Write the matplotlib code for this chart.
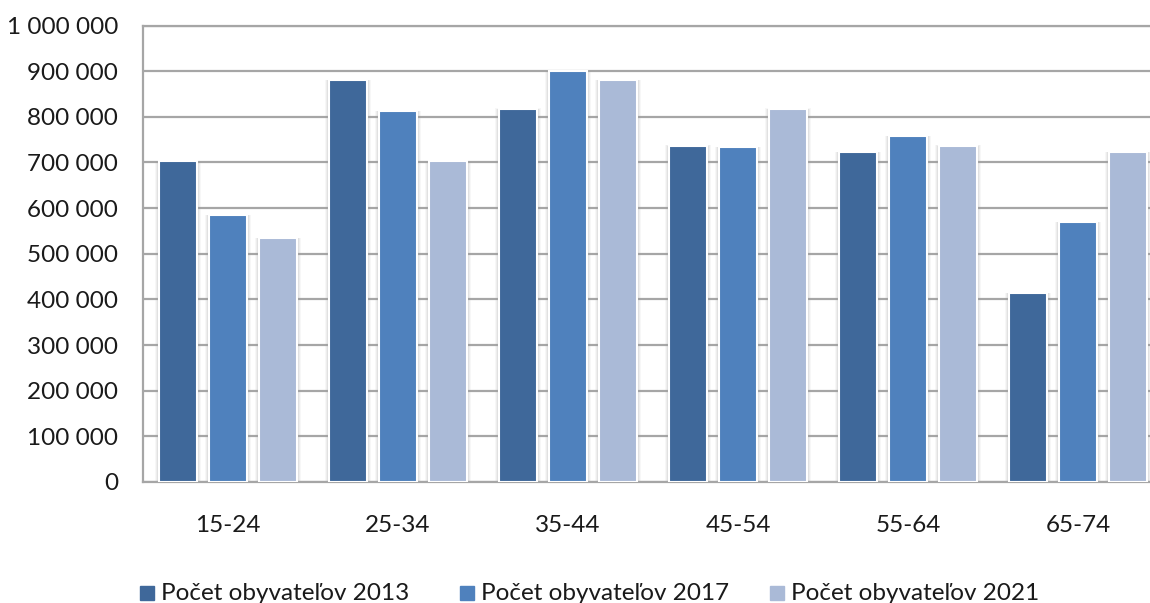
import matplotlib
matplotlib.use('Agg')
import matplotlib.pyplot as plt
from matplotlib.ticker import FuncFormatter, MultipleLocator
from matplotlib.patches import Rectangle
import numpy as np

plt.rcParams['font.family'] = ['Lato', 'DejaVu Sans']

# vekove skupiny a pocty obyvatelov
categories = ['15-24', '25-34', '35-44', '45-54', '55-64', '65-74']
pop_2013 = [703000, 881000, 818000, 737000, 723000, 413000]
pop_2017 = [585000, 813000, 901000, 734000, 758000, 569000]
pop_2021 = [535000, 703000, 881000, 818000, 737000, 723000]
labels = ['Počet obyvateľov 2013', 'Počet obyvateľov 2017', 'Počet obyvateľov 2021']
colors = ['#3f689a', '#4f81bd', '#aabad7']

fig = plt.figure(figsize=(11.5, 6.03), dpi=100)
# plot area runs a bit past the right edge
ax = fig.add_axes([143 / 1150, 1 - 482 / 603, 1020 / 1150, 456.5 / 603])

x = np.arange(len(categories))
width = 0.224
step = 0.294
series = [pop_2013, pop_2017, pop_2021]

for k, (vals, col, lab) in enumerate(zip(series, colors, labels)):
    pos = x + (k - 1) * step
    # soft shadow around each bar
    for extra, a in [(0.05, 0.07), (0.035, 0.10), (0.02, 0.15)]:
        ax.bar(pos, np.array(vals) + extra * 4000, width=width + extra,
               color='#9a9a9a', alpha=a, linewidth=0, zorder=2)
    ax.bar(pos, vals, width=width, color=col, edgecolor='white',
           linewidth=1.5, zorder=3, label=lab)

ax.set_xlim(-0.5, 5.5)
ax.set_ylim(0, 1000000)
ax.yaxis.set_major_locator(MultipleLocator(100000))
ax.yaxis.set_major_formatter(FuncFormatter(lambda v, p: f'{int(v):,}'.replace(',', ' ')))
ax.set_xticks(x)
ax.set_xticklabels(categories)
ax.tick_params(axis='y', length=0, pad=18, labelsize=17.5, colors='#1a1a1a')
ax.tick_params(axis='x', length=0, pad=24, labelsize=17.5, colors='#1a1a1a')

ax.grid(axis='y', color='#a6a6a6', linewidth=1.6, zorder=1)
ax.set_axisbelow(True)
ax.spines['right'].set_visible(False)
for s in ['left', 'bottom', 'top']:
    ax.spines[s].set_color('#a6a6a6')
    ax.spines[s].set_linewidth(1.6)

# legenda dole
legx = [140, 460, 770]
for xx, col, lab in zip(legx, colors, labels):
    fig.patches.append(Rectangle((xx / 1150, (603 - 600) / 603), 14 / 1150, 14 / 603,
                                 transform=fig.transFigure, color=col, figure=fig))
    fig.text((xx + 21) / 1150, (603 - 594) / 603, lab, fontsize=17.5,
             color='#1a1a1a', va='center', ha='left')

fig.savefig('out.png', dpi=100)
